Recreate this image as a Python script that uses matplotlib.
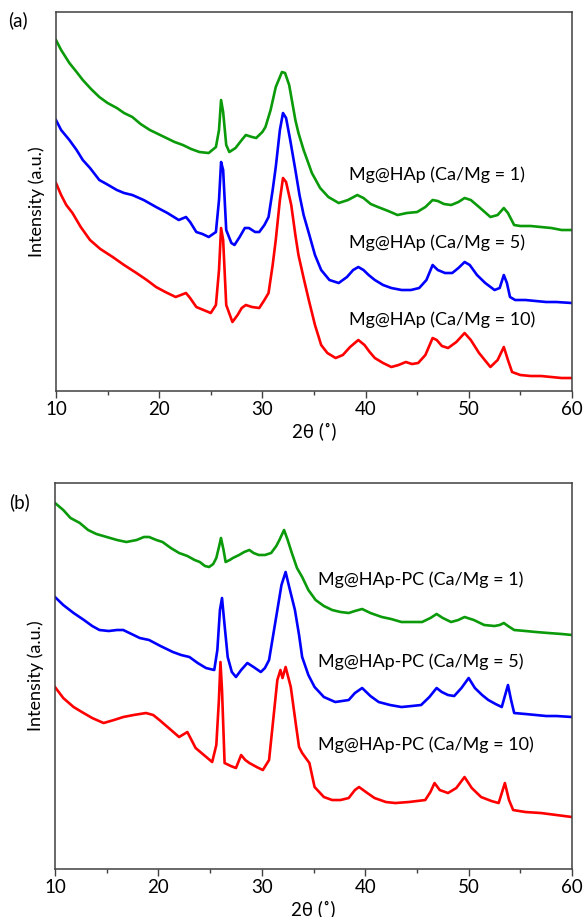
import numpy as np
import matplotlib
matplotlib.use("Agg")
from matplotlib import pyplot as plt
from matplotlib.ticker import MultipleLocator

# XRD patterns (2theta in degrees, intensity in a.u.)
# panel (a): Mg@HAp
a_green_x = [10.0, 10.5, 11.3, 12.0, 12.6, 13.4, 14.2, 15.0, 15.9, 16.6, 17.4, 18.2, 19.1, 19.9, 20.7,
             21.5, 22.3, 23.1, 23.9, 24.8, 25.5, 25.8, 26.0, 26.2, 26.5, 26.8, 27.4, 28.0, 28.4, 29.0,
             29.4, 30.0, 30.3, 30.8, 31.3, 31.9, 32.2, 32.6, 33.2, 33.5, 34.0, 34.8, 35.6, 36.4, 37.4,
             38.3, 39.2, 39.8, 40.5, 41.2, 42.2, 43.1, 44.0, 45.0, 45.8, 46.5, 47.0, 47.6, 48.3, 49.0,
             49.6, 50.2, 51.0, 52.1, 52.8, 53.4, 53.8, 54.4, 55.0, 56.0, 57.0, 58.0, 59.0, 60.0]
a_green_y = [351, 341, 328, 319, 311, 302, 294, 288, 283, 278, 274, 267, 261, 257, 253,
             249, 246, 242, 239, 238, 244, 261, 291, 279, 246, 239, 243, 251, 256, 254,
             253, 259, 264, 281, 304, 319, 318, 306, 271, 258, 241, 218, 203, 194, 188,
             191, 196, 193, 187, 184, 180, 176, 178, 179, 184, 191, 190, 187, 186, 189,
             193, 191, 184, 174, 176, 183, 178, 166, 165, 165, 164, 163, 161, 161]

a_blue_x = [10.0, 10.5, 11.3, 12.0, 12.6, 13.3, 14.2, 14.9, 15.9, 16.6, 17.4, 18.5, 19.7, 20.8, 21.9,
            22.6, 23.0, 23.6, 24.2, 24.8, 25.5, 25.8, 26.0, 26.2, 26.5, 27.0, 27.3, 27.8, 28.3, 28.7,
            29.3, 29.7, 30.2, 30.6, 31.0, 31.3, 31.7, 32.0, 32.3, 32.7, 33.2, 33.6, 34.0, 34.5, 35.1,
            35.7, 36.5, 37.4, 38.2, 38.8, 39.3, 39.8, 40.3, 40.9, 41.7, 42.5, 43.5, 44.4, 45.2, 45.9,
            46.5, 47.0, 47.7, 48.4, 49.0, 49.6, 50.1, 50.8, 51.6, 52.5, 53.0, 53.4, 53.7, 54.0, 54.5,
            55.5, 56.5, 57.5, 58.5, 60.0]
a_blue_y = [271, 261, 251, 241, 231, 223, 211, 207, 201, 198, 196, 191, 184, 178, 171,
            174, 169, 159, 157, 154, 159, 191, 229, 221, 161, 148, 146, 154, 163, 163,
            159, 159, 166, 174, 201, 224, 261, 278, 273, 251, 221, 196, 176, 158, 136,
            121, 111, 108, 114, 121, 124, 121, 116, 111, 106, 103, 101, 101, 103, 111,
            126, 121, 118, 118, 123, 129, 126, 116, 108, 101, 103, 116, 108, 94, 91,
            91, 90, 89, 89, 88]

a_red_x = [10.0, 10.5, 11.0, 11.6, 12.4, 13.3, 14.3, 15.5, 16.6, 17.8, 18.8, 19.7, 20.6, 21.6, 22.6,
           23.0, 23.6, 24.3, 25.0, 25.5, 25.8, 26.0, 26.2, 26.5, 27.1, 27.6, 28.0, 28.4, 29.0, 29.7,
           30.2, 30.6, 31.0, 31.3, 31.7, 32.0, 32.3, 32.8, 33.2, 33.5, 34.0, 34.5, 35.1, 35.7, 36.3,
           37.1, 37.8, 38.5, 39.3, 39.9, 40.4, 40.9, 41.7, 42.5, 43.2, 43.9, 44.5, 45.1, 45.8, 46.5,
           46.9, 47.4, 48.0, 48.8, 49.6, 50.2, 51.0, 52.1, 52.8, 53.4, 53.8, 54.2, 55.0, 56.0, 57.0,
           58.0, 59.0, 60.0]
a_red_y = [208, 196, 186, 178, 164, 151, 142, 134, 126, 118, 111, 104, 99, 94, 98,
           93, 84, 81, 78, 86, 121, 163, 151, 86, 69, 76, 83, 86, 84, 83,
           91, 98, 126, 151, 191, 213, 209, 186, 156, 136, 113, 91, 66, 46, 38,
           33, 36, 44, 51, 46, 39, 33, 28, 24, 26, 29, 27, 28, 36, 53,
           51, 45, 43, 49, 58, 51, 38, 24, 31, 44, 31, 19, 16, 15, 15,
           14, 13, 13]

# panel (b): Mg@HAp-PC
b_green_x = [10.0, 10.8, 11.5, 12.4, 13.2, 14.0, 15.0, 16.0, 16.9, 17.9, 18.6, 19.1, 19.8, 20.4, 21.2,
             22.0, 22.8, 23.5, 24.0, 24.5, 24.9, 25.3, 25.6, 25.9, 26.05, 26.3, 26.5, 26.9, 27.2, 27.8,
             28.3, 28.8, 29.2, 29.7, 30.3, 30.9, 31.4, 31.7, 32.15, 32.5, 32.9, 33.4, 33.9, 34.5, 35.2,
             36.0, 36.8, 37.6, 38.4, 39.0, 39.7, 40.5, 41.6, 42.5, 43.5, 44.5, 45.5, 46.3, 46.9, 47.5,
             48.3, 49.0, 49.6, 50.5, 51.5, 52.5, 53.0, 53.4, 53.8, 54.4, 55.5, 56.5, 57.7, 59.0, 60.0]
b_green_y = [366, 359, 351, 346, 339, 335, 332, 329, 327, 329, 332, 332, 329, 327, 321,
             316, 313, 309, 307, 303, 302, 305, 311, 324, 331, 319, 307, 309, 311, 314,
             317, 319, 316, 314, 314, 316, 323, 329, 339, 329, 316, 301, 292, 279, 269,
             263, 259, 257, 256, 258, 260, 256, 252, 250, 247, 247, 247, 251, 255, 251,
             247, 249, 252, 249, 244, 243, 244, 246, 243, 239, 238, 237, 236, 235, 234]

b_blue_x = [10.0, 10.8, 11.8, 12.8, 13.6, 14.3, 15.2, 16.0, 16.6, 17.4, 18.2, 19.1, 20.2, 21.4, 22.2,
            23.0, 23.8, 24.6, 25.4, 25.7, 25.95, 26.15, 26.35, 26.7, 27.1, 27.5, 28.0, 28.6, 29.2, 29.9,
            30.3, 30.7, 31.1, 31.5, 31.9, 32.3, 32.6, 33.2, 33.6, 33.9, 34.5, 35.1, 36.0, 37.1, 38.4,
            39.0, 39.7, 40.5, 41.3, 42.4, 43.5, 44.5, 45.4, 46.2, 46.9, 47.4, 48.0, 48.6, 49.3, 50.0,
            50.6, 51.3, 51.9, 52.6, 53.2, 53.8, 54.1, 54.4, 55.5, 56.5, 57.5, 58.5, 60.0]
b_blue_y = [272, 264, 256, 249, 243, 239, 238, 239, 239, 235, 231, 229, 223, 217, 214,
            212, 206, 201, 199, 219, 259, 271, 249, 212, 197, 192, 199, 206, 202, 197,
            201, 209, 234, 259, 284, 297, 284, 259, 234, 212, 194, 182, 172, 167, 169,
            176, 181, 173, 167, 164, 162, 163, 164, 172, 181, 177, 174, 173, 181, 191,
            181, 174, 169, 165, 162, 184, 169, 156, 155, 154, 153, 153, 152]

b_red_x = [10.0, 10.8, 11.8, 12.6, 13.6, 14.7, 15.7, 16.6, 17.6, 18.8, 19.5, 20.1, 21.0, 22.0, 22.8,
           23.2, 23.6, 24.4, 25.2, 25.6, 25.85, 26.0, 26.15, 26.4, 27.0, 27.5, 28.0, 28.4, 28.8, 29.5,
           30.1, 30.7, 31.1, 31.5, 31.8, 32.0, 32.3, 32.8, 33.3, 33.6, 33.9, 34.6, 35.1, 36.0, 36.8,
           37.6, 38.4, 39.0, 39.4, 40.2, 40.9, 42.0, 42.9, 44.2, 45.0, 45.8, 46.3, 46.7, 47.2, 48.0,
           48.8, 49.6, 50.3, 51.2, 52.2, 52.9, 53.5, 53.9, 54.3, 55.5, 57.0, 58.5, 60.0]
b_red_y = [182, 171, 162, 157, 151, 146, 149, 152, 154, 156, 154, 149, 141, 132, 137,
           129, 121, 114, 107, 124, 169, 207, 179, 106, 103, 101, 114, 109, 106, 102,
           99, 109, 149, 189, 199, 191, 202, 182, 144, 122, 116, 106, 82, 72, 69,
           69, 71, 79, 82, 76, 71, 67, 66, 67, 68, 69, 77, 86, 79, 76,
           81, 92, 81, 72, 68, 66, 86, 69, 59, 57, 56, 54, 52]

labels_a = ["Mg@HAp (Ca/Mg = 1)", "Mg@HAp (Ca/Mg = 5)", "Mg@HAp (Ca/Mg = 10)"]
labels_b = ["Mg@HAp-PC (Ca/Mg = 1)", "Mg@HAp-PC (Ca/Mg = 5)", "Mg@HAp-PC (Ca/Mg = 10)"]
colors = ["#0a9a0a", "#0000ff", "#ff0000"]

plt.rcParams['font.family'] = ['Lato', 'DejaVu Sans']
fig = plt.figure(figsize=(5.83, 9.17), dpi=100)
ax_a = fig.add_axes([0.096, 0.5736, 0.8850, 0.4133])
ax_b = fig.add_axes([0.0943, 0.0523, 0.8870, 0.4210])


def style(ax, ymax):
    ax.set_xlim(10, 60)
    ax.set_ylim(0, ymax)
    ax.set_yticks([])
    ax.xaxis.set_major_locator(MultipleLocator(10))
    ax.xaxis.set_minor_locator(MultipleLocator(5))
    ax.tick_params(axis="x", which="major", direction="out", length=5, width=1, labelsize=13.5,
                   color="#404040", pad=2)
    ax.tick_params(axis="x", which="minor", direction="out", length=3, width=1, color="#404040")
    for s in ax.spines.values():
        s.set_color("#404040")
        s.set_linewidth(1.1)
    ax.set_xlabel("2θ (˚)", fontsize=13.5, labelpad=3)
    ax.set_ylabel("Intensity (a.u.)", fontsize=13, labelpad=8)


series_a = [(a_green_x, a_green_y), (a_blue_x, a_blue_y), (a_red_x, a_red_y)]
for (x, y), c in zip(series_a, colors):
    ax_a.plot(x, y, color=c, lw=1.9)
for lab, yy in zip(labels_a, [216, 148, 71]):
    ax_a.text(38.4, yy, lab, fontsize=13, va="center", ha="left")
style(ax_a, 379)

series_b = [(b_green_x, b_green_y), (b_blue_x, b_blue_y), (b_red_x, b_red_y)]
for (x, y), c in zip(series_b, colors):
    ax_b.plot(x, y, color=c, lw=1.9)
for lab, yy in zip(labels_b, [289, 207, 124]):
    ax_b.text(35.4, yy, lab, fontsize=13, va="center", ha="left")
style(ax_b, 386)

fig.text(18 / 583, 1 - 20 / 917, "(a)", fontsize=13.5, ha="center", va="center")
fig.text(19 / 583, 1 - 502 / 917, "(b)", fontsize=13.5, ha="center", va="center")

fig.savefig("out.png", dpi=100)
